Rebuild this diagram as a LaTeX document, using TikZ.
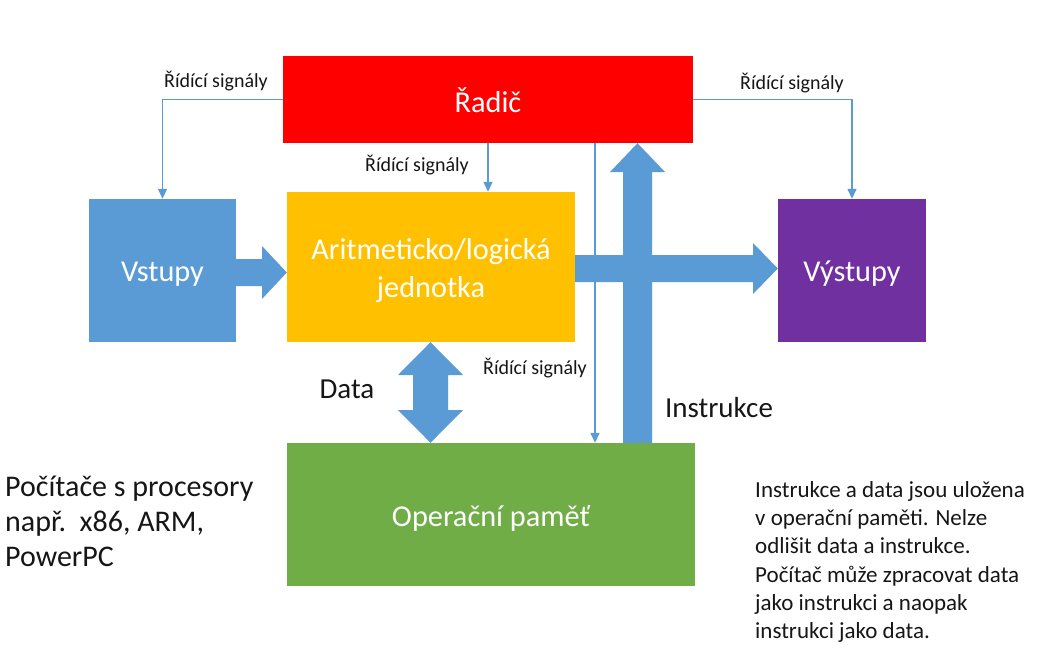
\documentclass[tikz,border=0pt]{standalone}
\usepackage{fontspec}
\setmainfont{Carlito}
\usetikzlibrary{arrows.meta}

\definecolor{ctlred}{HTML}{FF0000}
\definecolor{busblue}{HTML}{5B9BD5}
\definecolor{alugold}{HTML}{FFC000}
\definecolor{outpurple}{HTML}{7030A0}
\definecolor{memgreen}{HTML}{70AD47}
\definecolor{ink}{HTML}{161616}

\tikzset{
  block/.style={draw=none, inner sep=0pt},
  blocktext/.style={text=white, inner sep=0pt, align=center,
    font=\fontsize{30.3}{38}\selectfont},
  bus/.style={fill=busblue, draw=none},
  sig/.style={draw=busblue, line width=1.4pt,
    -{Triangle[length=10pt,width=9pt]}},
  siglabel/.style={text=ink, inner sep=0pt, font=\fontsize{20}{24}\selectfont},
  biglabel/.style={text=ink, inner sep=0pt, font=\fontsize{29}{35}\selectfont},
  note/.style={text=ink, inner sep=0pt, align=left}
}

\begin{document}
\begin{tikzpicture}[x=1pt,y=-1pt]
\useasboundingbox[fill=white] (0,0) rectangle (1057,665);

% functional units
\node[block, fill=ctlred, minimum width=410pt, minimum height=87pt] (ctl) at (488,99.5) {};
\node[block, fill=busblue, minimum width=147pt, minimum height=143pt] (vst) at (162.5,270.5) {};
\node[block, fill=alugold, minimum width=288pt, minimum height=150pt] (alu) at (431,267) {};
\node[block, fill=outpurple, minimum width=148pt, minimum height=143pt] (vyst) at (852,270.5) {};
\node[block, fill=memgreen, minimum width=408pt, minimum height=143pt] (ram) at (491,514.5) {};

\node[blocktext] (ctltext) at ([yshift=-1pt]ctl.center) {Řadič};
\node[blocktext] (vsttext) at ([yshift=-3.5pt]vst.center) {Vstupy};
\node[blocktext] (alutext) at ([yshift=-3.5pt]alu.center) {Aritmeticko/logická\\jednotka};
\node[blocktext] (vysttext) at ([yshift=-3.5pt]vyst.center) {Výstupy};
\node[blocktext] (ramtext) at ([yshift=-3.5pt]ram.center) {Operační paměť};

% data paths (block arrows)
\fill[bus] (vst.east |- 0,259) -- (262,259) -- (262,246) -- (alu.west |- 0,272.5)
  -- (262,299) -- (262,286) -- (vst.east |- 0,286) -- cycle;
\fill[bus] (alu.east |- 0,255) -- (753,255) -- (753,243) -- (vyst.west |- 0,268.5)
  -- (753,294) -- (753,282) -- (alu.east |- 0,282) -- cycle;
\fill[bus] (ram.north -| 623,0) -- (623,172) -- (610,172) -- (ctl.south -| 637.5,0)
  -- (665,172) -- (652,172) -- (ram.north -| 652,0) -- cycle;
\fill[bus] (413,375) -- (398,375) -- (alu.south -| 430.5,0) -- (463,375) -- (448,375)
  -- (448,410) -- (463,410) -- (ram.north -| 430.5,0) -- (398,410) -- (413,410) -- cycle;

% control signals
\coordinate (tapmid) at (ctl.south -| 488,0);
\coordinate (tapmem) at (ctl.south -| 595,0);
\draw[sig] (ctl.west) -| (vst.north);
\draw[sig] (ctl.east) -| (vyst.north);
\draw[sig] (tapmid) -- (tapmid |- alu.north);
\draw[sig] (tapmem) -- (tapmem |- ram.north);

% labels
\node[siglabel] (lblin)  at (216,81)  {Řídící signály};
\node[siglabel] (lblout) at (792,83)  {Řídící signály};
\node[siglabel] (lblalu) at (417,165) {Řídící signály};
\node[siglabel] (lblmem) at (535,368) {Řídící signály};
\node[biglabel] (lbldata) at (347,389) {Data};
\node[biglabel] (lblinstr) at (719,408) {Instrukce};

% side notes
\node[note, anchor=west, font=\fontsize{30}{35}\selectfont] (cpus) at (5,521.5)
  {Počítače s procesory\\např.\ \ x86, ARM,\\PowerPC};
\node[note, anchor=west, font=\fontsize{23}{28.3}\selectfont] (vonneumann) at (755,562)
  {Instrukce a data jsou uložena\\v operační paměti. Nelze\\odlišit data a instrukce.\\Počítač může zpracovat data\\jako instrukci a naopak\\instrukci jako data.};
\end{tikzpicture}
\end{document}
